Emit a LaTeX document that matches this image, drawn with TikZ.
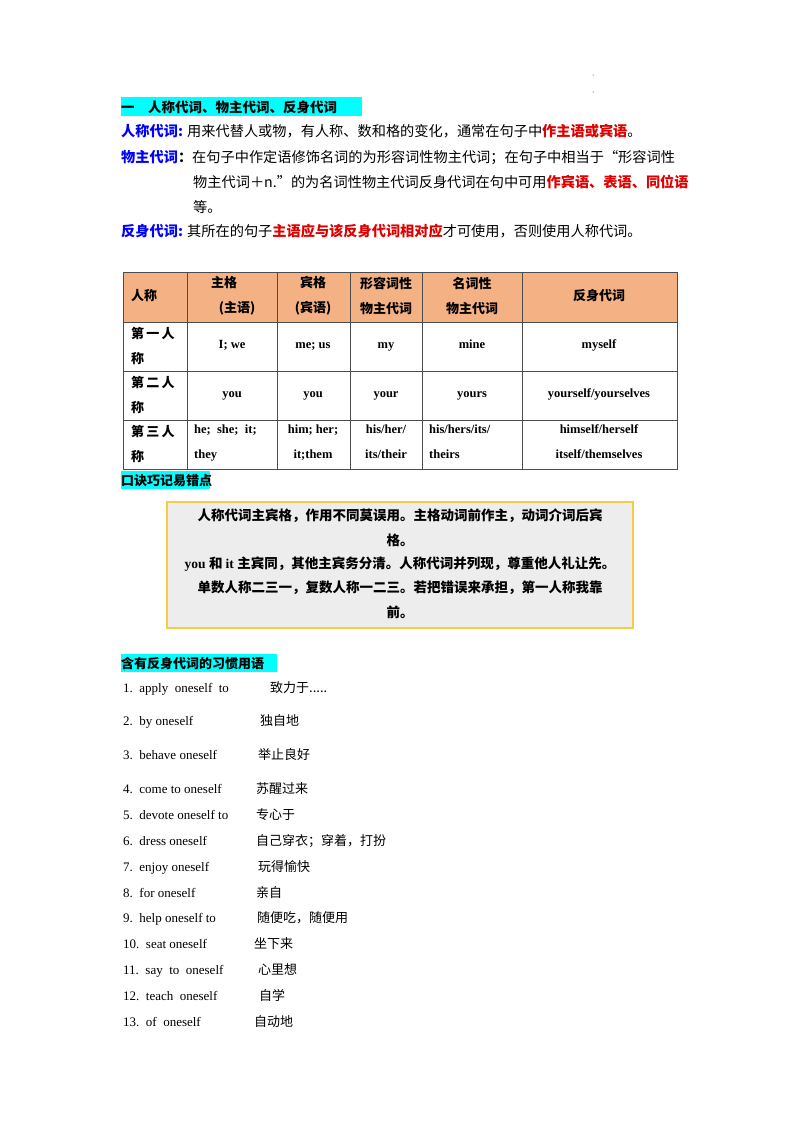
\documentclass[tikz,border=0pt]{standalone}
\usepackage{fontspec}
\setmainfont{Liberation Serif}
\newfontfamily\cjk{Noto Sans CJK SC}
\definecolor{hl}{HTML}{00FFFF}
\definecolor{bl}{HTML}{0000FF}
\definecolor{rd}{HTML}{E00000}
\definecolor{hd}{HTML}{F4B183}
\definecolor{yb}{HTML}{F6CB45}
\definecolor{gb}{HTML}{EDEDED}
\tikzset{t/.style={anchor=base west,inner sep=0pt,font=\fontsize{14.2}{16}\selectfont\cjk},
 li/.style={anchor=base west,inner sep=0pt,font=\fontsize{13}{15}\selectfont},
 lc/.style={anchor=base west,inner sep=0pt,font=\fontsize{13}{15}\selectfont\cjk},
 c/.style={inner sep=0pt,align=center,font=\fontsize{12.5}{25}\selectfont\bfseries},
 s/.style={inner sep=0pt,anchor=base,font=\fontsize{12.5}{25}\selectfont\bfseries},
 m/.style={inner sep=0pt,font=\fontsize{13.5}{16}\selectfont\cjk\bfseries}}
\begin{document}
\begin{tikzpicture}[x=1pt,y=-1pt]
\useasboundingbox (0,0) rectangle (800,1132);
\fill (593,75) circle (0.5) (593,92) circle (0.5);
\fill[hl] (121,97) rectangle (362,116);
\node[t,font=\fontsize{13.5}{16}\selectfont\cjk\bfseries] (h1) at (121,112) {一\quad 人称代词、物主代词、反身代词};
\node[t] (l1) at (121,136) {\textcolor{bl}{\bfseries 人称代词:} 用来代替人或物，有人称、数和格的变化，通常在句子中\textcolor{rd}{\bfseries 作主语或宾语}。};
\node[t] (l2) at (121,162) {\textcolor{bl}{\bfseries 物主代词}\textbf{：}在句子中作定语修饰名词的为形容词性物主代词；在句子中相当于“形容词性};
\node[t] (l3) at (193,187) {物主代词＋n.”的为名词性物主代词反身代词在句中可用\textcolor{rd}{\bfseries 作宾语、表语、同位语}};
\node[t] (l4) at (193,212) {等。};
\node[t] (l5) at (121,236) {\textcolor{bl}{\bfseries 反身代词:} 其所在的句子\textcolor{rd}{\bfseries 主语应与该反身代词相对应}才可使用，否则使用人称代词。};
% table
\fill[hd] (123,272) rectangle (677,322);
\draw[line width=0.8pt,gray!60!black] (123,272) rectangle (677,469);
\foreach \x in {187,277,350,422,522} \draw[line width=0.8pt,gray!60!black] (\x,272) -- (\x,469);
\foreach \y in {322,371,420} \draw[line width=0.8pt,gray!60!black] (123,\y) -- (677,\y);
\node[c,font=\fontsize{13}{25}\selectfont\cjk\bfseries,anchor=west] (r0) at (131,296) {人称};
\node[c,font=\fontsize{13}{25}\selectfont\cjk\bfseries] (h2) at (232,296) {\hspace*{-16pt}主格\\\hspace*{10pt}(主语)};
\node[c,font=\fontsize{13}{25}\selectfont\cjk\bfseries] (h3) at (313,296) {宾格\\(宾语)};
\node[c,font=\fontsize{13}{25}\selectfont\cjk\bfseries] (h4) at (386,296) {形容词性\\物主代词};
\node[c,font=\fontsize{13}{25}\selectfont\cjk\bfseries] (h5) at (472,296) {名词性\\物主代词};
\node[c,font=\fontsize{13}{25}\selectfont\cjk\bfseries] (h6) at (599,296) {反身代词};
\foreach \y/\a in {346/一,395/二,444/三}{
 \node[c,font=\fontsize{13}{25}\selectfont\cjk\bfseries,align=left,anchor=west] at (131,\y) {第\,\a\,人\\称};}
\node[s] (a1) at (232,348) {I; we};
\node[s] (a2) at (313,348) {me; us};
\node[s] (a3) at (386,348) {my};
\node[s] (a4) at (472,348) {mine};
\node[s] (a5) at (599,348) {myself};
\node[s] (b1) at (232,397) {you};
\node[s] (b2) at (313,397) {you};
\node[s] (b3) at (386,397) {your};
\node[s] (b4) at (472,397) {yours};
\node[s] (b5) at (599,397) {yourself/yourselves};
\node[s,anchor=base west] (c1) at (194,433) {he;\ \ she;\ \ it;};
\node[s,anchor=base west] (c1b) at (194,458) {they};
\node[s] (c2) at (313,433) {him; her;};
\node[s] (c2b) at (313,458) {it;them};
\node[s] (c3) at (386,433) {his/her/};
\node[s] (c3b) at (386,458) {its/their};
\node[s,anchor=base west] (c4) at (429,433) {his/hers/its/};
\node[s,anchor=base west] (c4b) at (429,458) {theirs};
\node[s] (c5) at (599,433) {himself/herself};
\node[s] (c5b) at (599,458) {itself/themselves};
% mnemonic
\fill[hl] (121,471) rectangle (210,489);
\node[t,font=\fontsize{13}{16}\selectfont\cjk\bfseries] (mh) at (121,485) {口诀巧记易错点};
\draw[yb,line width=2pt,fill=gb] (167,502) rectangle (633,628);
\node[m] (m1) at (400,516) {人称代词主宾格，作用不同莫误用。主格动词前作主，动词介词后宾};
\node[m] (m2) at (400,540) {格。};
\node[m] (m3) at (400,564) {\fontspec{Liberation Serif}you \cjk 和 \fontspec{Liberation Serif}it \cjk 主宾同，其他主宾务分清。人称代词并列现，尊重他人礼让先。};
\node[m] (m4) at (400,588) {单数人称二三一，复数人称一二三。若把错误来承担，第一人称我靠};
\node[m] (m5) at (400,612) {前。};
% idioms
\fill[hl] (121,654) rectangle (277,672);
\node[t,font=\fontsize{13}{16}\selectfont\cjk\bfseries] (ih) at (121,668) {含有反身代词的习惯用语};
\foreach \y/\e/\z/\cx in {692/{1.\ \ apply\ \ oneself\ \ to}/{致力于.....}/270,
 725/{2.\ \ by oneself}/{独自地}/260,
 759/{3.\ \ behave oneself}/{举止良好}/258,
 793/{4.\ \ come to oneself}/{苏醒过来}/256,
 819/{5.\ \ devote oneself to}/{专心于}/256,
 845/{6.\ \ dress oneself}/{自己穿衣；穿着，打扮}/256,
 871/{7.\ \ enjoy oneself}/{玩得愉快}/258,
 897/{8.\ \ for oneself}/{亲自}/256,
 922/{9.\ \ help oneself to}/{随便吃，随便用}/257,
 948/{10.\ \ seat oneself}/{坐下来}/254,
 974/{11.\ \ say\ \ to\ \ oneself}/{心里想}/258,
 1000/{12.\ \ teach\ \ oneself}/{自学}/259,
 1026/{13.\ \ of\ \ oneself}/{自动地}/254}{
 \node[li] at (123,\y) {\e};
 \node[lc] at (\cx,\y) {\z};}
\end{tikzpicture}
\end{document}
